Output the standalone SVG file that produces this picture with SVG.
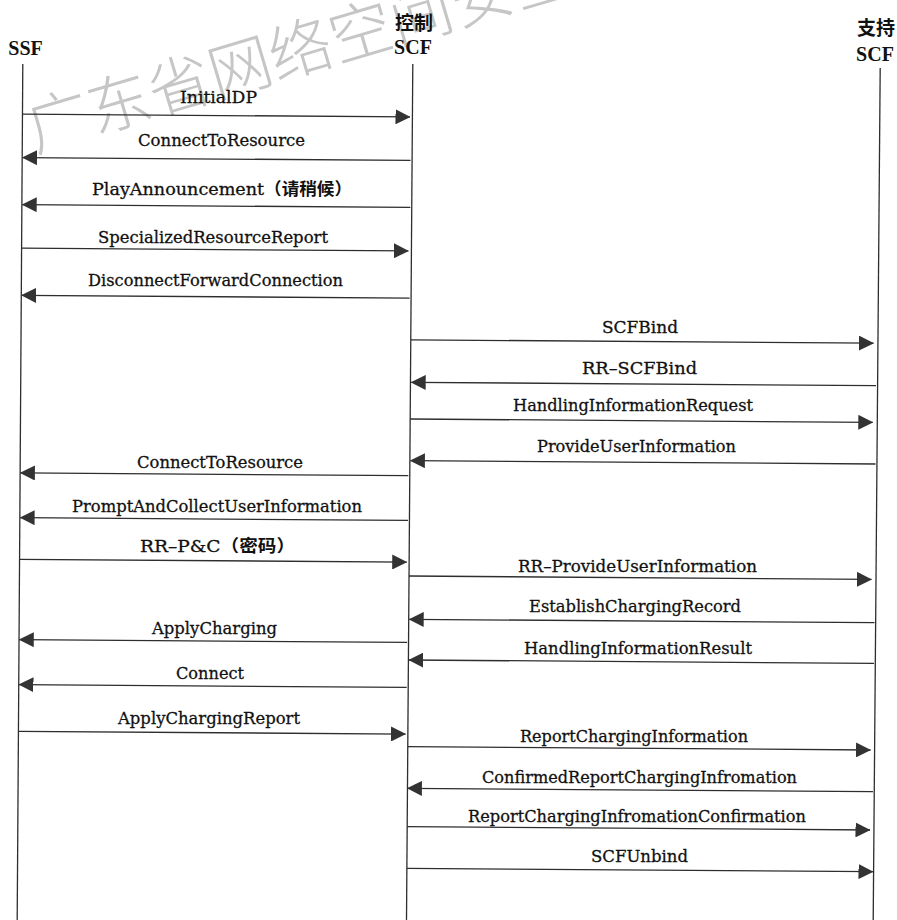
<svg xmlns="http://www.w3.org/2000/svg" width="897" height="920" viewBox="0 0 897 920">
<style>
.bg{fill:#ffffff}
.wm{font-family:"Noto Sans CJK SC","Noto Sans",sans-serif;font-size:63px;font-weight:300;fill:#c6c6c6}
.life{stroke:#2e2e2e;stroke-width:1.3;fill:none}
.hdr{font-family:"Liberation Serif",serif;font-weight:bold;font-size:20px;fill:#111;text-anchor:middle}
.hdrc{font-family:"Noto Sans CJK SC",sans-serif;font-weight:bold;font-size:19px;fill:#111;text-anchor:middle}
.msg{stroke:#2e2e2e;stroke-width:1.3;fill:none;marker-end:url(#ah)}
.lbl{font-family:"DejaVu Serif","Noto Sans CJK SC",serif;font-size:17px;fill:#111;stroke:#111;stroke-width:0.3;text-anchor:middle}
.cjk{font-family:"Noto Sans CJK SC",sans-serif;font-weight:bold;stroke-width:0}
</style>
<defs>
<marker id="ah" viewBox="0 0 15 15" refX="14.5" refY="7.5" markerWidth="15" markerHeight="15" markerUnits="userSpaceOnUse" orient="auto">
<path d="M0,0 L15,7.5 L0,15 Z" fill="#333333"/>
</marker>
</defs>
<rect class="bg" x="0" y="0" width="897" height="920"/>
<text class="wm" x="35" y="152" transform="rotate(-16.5 35 152)">广东省网络空间安全协</text>

<g id="ssf">
<text class="hdr" x="25.5" y="55">SSF</text>
<line class="life" x1="22.8" y1="64" x2="17.2" y2="920"/>
</g>
<g id="control-scf">
<text class="hdrc" x="414" y="30">控制</text>
<text class="hdr" x="413" y="54">SCF</text>
<line class="life" x1="412.8" y1="64" x2="406.5" y2="920"/>
</g>
<g id="support-scf">
<text class="hdrc" x="876" y="35">支持</text>
<text class="hdr" x="875" y="61">SCF</text>
<line class="life" x1="880.2" y1="68" x2="873.2" y2="920"/>
</g>

<g id="connectors">
<g id="m1"><line class="msg" x1="22.5" y1="114.1" x2="410" y2="116.9"/><text class="lbl" x="218.5" y="103" textLength="77" lengthAdjust="spacingAndGlyphs">InitialDP</text></g>
<g id="m2"><line class="msg" x1="410.5" y1="160.4" x2="22.5" y2="157.6"/><text class="lbl" x="221.5" y="145.5" textLength="167" lengthAdjust="spacingAndGlyphs">ConnectToResource</text></g>
<g id="m3"><line class="msg" x1="410.3" y1="207.4" x2="22.2" y2="204.6"/><text class="lbl" x="222" y="195" textLength="260" lengthAdjust="spacingAndGlyphs">PlayAnnouncement<tspan class="cjk">（请稍候）</tspan></text></g>
<g id="m4"><line class="msg" x1="21.6" y1="248.1" x2="408.4" y2="250.9"/><text class="lbl" x="213" y="243" textLength="230" lengthAdjust="spacingAndGlyphs">SpecializedResourceReport</text></g>
<g id="m5"><line class="msg" x1="409.6" y1="298.1" x2="21.6" y2="295.3"/><text class="lbl" x="215.5" y="286" textLength="255" lengthAdjust="spacingAndGlyphs">DisconnectForwardConnection</text></g>
<g id="m6"><line class="msg" x1="410.8" y1="339.8" x2="873.5" y2="343.2"/><text class="lbl" x="640" y="333.3" textLength="76" lengthAdjust="spacingAndGlyphs">SCFBind</text></g>
<g id="m7"><line class="msg" x1="876" y1="385.7" x2="411.2" y2="382.3"/><text class="lbl" x="639.5" y="374" textLength="115" lengthAdjust="spacingAndGlyphs">RR–SCFBind</text></g>
<g id="m8"><line class="msg" x1="410.2" y1="419" x2="872.8" y2="422.4"/><text class="lbl" x="633" y="411" textLength="240" lengthAdjust="spacingAndGlyphs">HandlingInformationRequest</text></g>
<g id="m9"><line class="msg" x1="875.5" y1="464" x2="410.4" y2="460.6"/><text class="lbl" x="636.5" y="451.7" textLength="199" lengthAdjust="spacingAndGlyphs">ProvideUserInformation</text></g>
<g id="m10"><line class="msg" x1="408.3" y1="475.7" x2="20.4" y2="472.9"/><text class="lbl" x="220" y="467.7" textLength="166" lengthAdjust="spacingAndGlyphs">ConnectToResource</text></g>
<g id="m11"><line class="msg" x1="408" y1="520.4" x2="20.1" y2="517.6"/><text class="lbl" x="217" y="511.7" textLength="290" lengthAdjust="spacingAndGlyphs">PromptAndCollectUserInformation</text></g>
<g id="m12"><line class="msg" x1="19.5" y1="559.3" x2="406.7" y2="562.1"/><text class="lbl" x="217.5" y="552.3" textLength="155" lengthAdjust="spacingAndGlyphs">RR–P&amp;C<tspan class="cjk">（密码）</tspan></text></g>
<g id="m13"><line class="msg" x1="409" y1="576" x2="871.5" y2="579.4"/><text class="lbl" x="637.5" y="572.3" textLength="239" lengthAdjust="spacingAndGlyphs">RR–ProvideUserInformation</text></g>
<g id="m14"><line class="msg" x1="874.5" y1="622.7" x2="409.2" y2="619.3"/><text class="lbl" x="635" y="612.3" textLength="212" lengthAdjust="spacingAndGlyphs">EstablishChargingRecord</text></g>
<g id="m15"><line class="msg" x1="874" y1="663.4" x2="408.9" y2="660"/><text class="lbl" x="638" y="654.3" textLength="228" lengthAdjust="spacingAndGlyphs">HandlingInformationResult</text></g>
<g id="m16"><line class="msg" x1="407.1" y1="642.4" x2="19.3" y2="639.6"/><text class="lbl" x="214.5" y="634.3" textLength="125" lengthAdjust="spacingAndGlyphs">ApplyCharging</text></g>
<g id="m17"><line class="msg" x1="406.7" y1="687.4" x2="19" y2="684.6"/><text class="lbl" x="210" y="679.3" textLength="68" lengthAdjust="spacingAndGlyphs">Connect</text></g>
<g id="m18"><line class="msg" x1="18.4" y1="731.3" x2="405.5" y2="734.1"/><text class="lbl" x="209" y="724" textLength="182" lengthAdjust="spacingAndGlyphs">ApplyChargingReport</text></g>
<g id="m19"><line class="msg" x1="407.7" y1="746.6" x2="870.5" y2="750"/><text class="lbl" x="634" y="741.7" textLength="228" lengthAdjust="spacingAndGlyphs">ReportChargingInformation</text></g>
<g id="m20"><line class="msg" x1="873" y1="791.7" x2="407.4" y2="788.3"/><text class="lbl" x="639.5" y="783.3" textLength="315" lengthAdjust="spacingAndGlyphs">ConfirmedReportChargingInfromation</text></g>
<g id="m21"><line class="msg" x1="407.1" y1="826.6" x2="870" y2="830"/><text class="lbl" x="637" y="821.7" textLength="338" lengthAdjust="spacingAndGlyphs">ReportChargingInfromationConfirmation</text></g>
<g id="m22"><line class="msg" x1="406.8" y1="868.3" x2="873" y2="871.7"/><text class="lbl" x="639.5" y="861.7" textLength="97" lengthAdjust="spacingAndGlyphs">SCFUnbind</text></g>
</g>
</svg>
